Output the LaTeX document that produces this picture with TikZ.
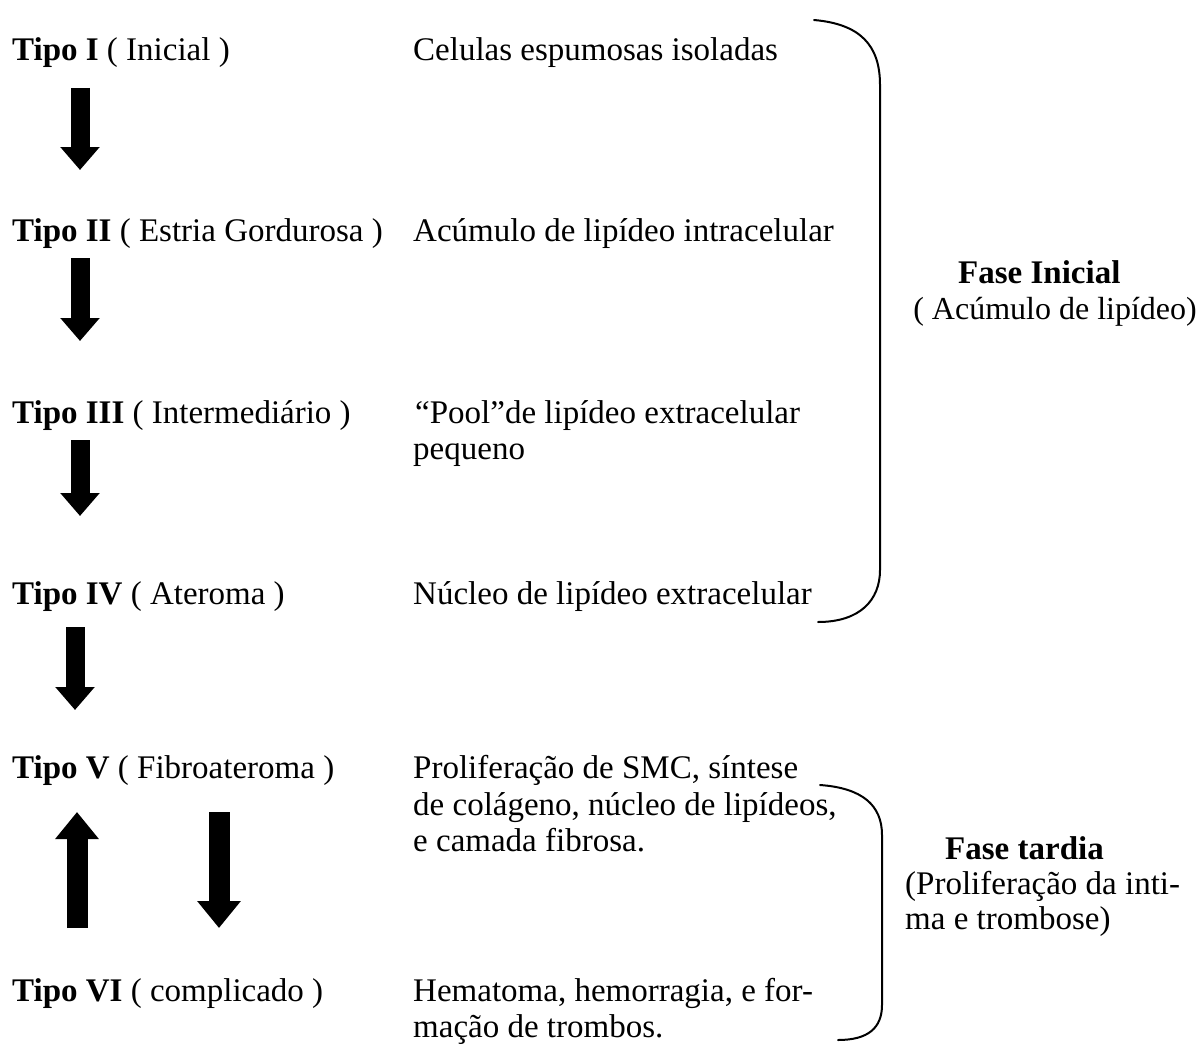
\documentclass[tikz,border=0pt]{standalone}
\usepackage{fontspec}
\setmainfont{Liberation Serif}
\usetikzlibrary{arrows.meta}
\tikzset{
  txt/.style={anchor=base west, inner sep=0pt, font=\fontsize{33}{37}\selectfont},
  fat/.style={line width=19pt, -{Triangle[width=38pt,length=23pt]}},
  fatup/.style={line width=21pt, -{Triangle[width=42pt,length=27pt]}},
  bracelinestyle/.style={line width=2pt, line cap=round},
}
\begin{document}
\begin{tikzpicture}[x=1pt,y=-1pt]
\useasboundingbox (0,0) rectangle (1201,1046);
% left column
\node[txt] (t1) at (12,61) {\textbf{Tipo I} ( Inicial )};
\node[txt] (t2) at (12,241) {\textbf{Tipo II} ( Estria Gordurosa )};
\node[txt] (t3) at (12,423) {\textbf{Tipo III} ( Intermediário )};
\node[txt] (t4) at (12,604) {\textbf{Tipo IV} ( Ateroma )};
\node[txt] (t5) at (12,778) {\textbf{Tipo V} ( Fibroateroma )};
\node[txt] (t6) at (12,1001) {\textbf{Tipo VI} ( complicado )};
% right column
\node[txt] (d1) at (413,61) {Celulas espumosas isoladas};
\node[txt] (d2) at (413,241) {Acúmulo de lipídeo intracelular};
\node[txt] (d3a) at (415,423) {“Pool”de lipídeo extracelular};
\node[txt] (d3b) at (413,459) {pequeno};
\node[txt] (d4) at (413,604) {Núcleo de lipídeo extracelular};
\node[txt] (d5a) at (413,778) {Proliferação de SMC, síntese};
\node[txt] (d5b) at (413,815) {de colágeno, núcleo de lipídeos,};
\node[txt] (d5c) at (413,851) {e camada fibrosa.};
\node[txt] (d6a) at (413,1001) {Hematoma, hemorragia, e for-};
\node[txt] (d6b) at (413,1037) {mação de trombos.};
% phase labels
\node[txt] (f1a) at (958,283) {\textbf{Fase Inicial}};
\node[txt, anchor=base east, font=\fontsize{32}{36}\selectfont] (f1b) at (1197,319) {( Acúmulo de lipídeo)};
\node[txt] (f2a) at (945,859) {\textbf{Fase tardia}};
\node[txt] (f2b) at (905,894) {(Proliferação da inti-};
\node[txt] (f2c) at (905,929) {ma e trombose)};
% arrows
\coordinate (a1s) at (80,88);  \coordinate (a1e) at (80,170);
\coordinate (a2s) at (80,258); \coordinate (a2e) at (80,341);
\coordinate (a3s) at (80,440); \coordinate (a3e) at (80,516);
\coordinate (a4s) at (75,627); \coordinate (a4e) at (75,710);
\coordinate (a5s) at (77,928); \coordinate (a5e) at (77,812);
\coordinate (a6s) at (219,812); \coordinate (a6e) at (219,928);
\draw[fat] (a1s) -- (a1e);
\draw[fat] (a2s) -- (a2e);
\draw[fat] (a3s) -- (a3e);
\draw[fat] (a4s) -- (a4e);
\draw[fatup] (a5s) -- (a5e);
\draw[fatup] (a6s) -- (a6e);
% braces
\coordinate (b1t) at (814,20); \coordinate (b1b) at (818,622);
\draw[bracelinestyle] (b1t) .. controls (860,24) and (880,45) .. (880,85)
  -- (880,570) .. controls (880,600) and (860,622) .. (b1b);
\coordinate (b2t) at (820,785); \coordinate (b2b) at (838,1040);
\draw[bracelinestyle] (b2t) .. controls (862,788) and (882,805) .. (882,835)
  -- (882,1005) .. controls (882,1028) and (868,1040) .. (b2b);
\end{tikzpicture}
\end{document}
